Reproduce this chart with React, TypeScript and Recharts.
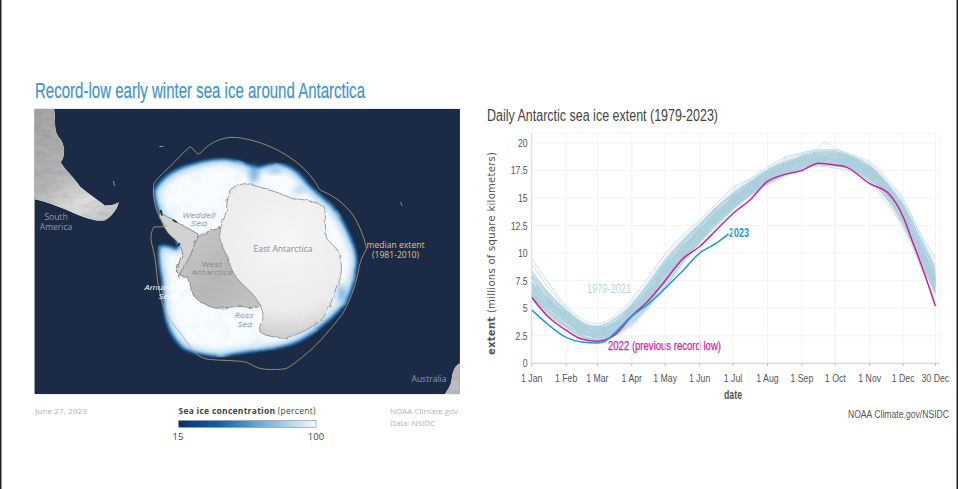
import { CartesianGrid, Line, LineChart, XAxis, YAxis } from "recharts";

// day of year for every value in the lists below
const knotDays = [0, 15, 31, 45, 59, 75, 90, 105, 120, 135, 151, 166, 181, 197, 212, 228, 243, 258, 273, 288, 304, 319, 334, 349, 363];

// 1979-2021
const paleYears = [
  [9.5, 7.3, 5.2, 4.0, 3.6, 4.3, 5.8, 7.8, 9.9, 11.5, 13.0, 14.5, 15.9, 16.8, 17.8, 18.7, 19.1, 19.4, 19.4, 18.9, 18.3, 16.8, 14.9, 11.9, 9.5],
  [9.0, 6.9, 5.0, 3.8, 3.4, 4.1, 5.5, 7.4, 9.5, 11.2, 12.8, 14.2, 15.6, 16.7, 17.6, 18.5, 19.0, 19.3, 19.3, 18.8, 18.1, 16.6, 14.7, 11.7, 8.9],
  [8.3, 6.4, 4.8, 3.7, 3.3, 4.0, 5.3, 7.2, 9.3, 11.0, 12.6, 14.1, 15.4, 16.5, 17.5, 18.3, 18.8, 19.2, 19.2, 18.7, 17.9, 16.4, 14.4, 11.4, 8.6],
  [8.0, 6.2, 4.7, 3.6, 3.2, 3.8, 5.2, 7.0, 9.1, 10.9, 12.5, 14.0, 15.3, 16.4, 17.4, 18.2, 18.7, 19.1, 19.1, 18.7, 17.8, 16.3, 14.3, 11.3, 8.3],
  [7.7, 6.0, 4.5, 3.5, 3.1, 3.7, 5.0, 6.8, 8.9, 10.7, 12.3, 13.8, 15.1, 16.3, 17.3, 18.1, 18.6, 19.0, 19.0, 18.6, 17.7, 16.2, 14.1, 11.0, 8.0],
  [7.4, 5.8, 4.4, 3.4, 3.0, 3.6, 4.9, 6.7, 8.7, 10.5, 12.1, 13.7, 15.0, 16.2, 17.2, 18.0, 18.5, 18.9, 18.9, 18.5, 17.6, 16.1, 14.0, 10.8, 7.8],
  [7.2, 5.7, 4.3, 3.3, 2.9, 3.5, 4.8, 6.5, 8.5, 10.4, 12.0, 13.5, 14.9, 16.1, 17.1, 17.9, 18.5, 18.8, 18.8, 18.4, 17.5, 16.0, 13.8, 10.7, 7.6],
  [7.0, 5.5, 4.2, 3.2, 2.8, 3.4, 4.7, 6.4, 8.4, 10.2, 11.9, 13.4, 14.8, 16.0, 17.0, 17.9, 18.4, 18.7, 18.7, 18.3, 17.4, 15.9, 13.7, 10.5, 7.5],
  [6.8, 5.4, 4.1, 3.1, 2.7, 3.3, 4.6, 6.2, 8.2, 10.1, 11.8, 13.3, 14.7, 15.9, 16.9, 17.8, 18.3, 18.6, 18.6, 18.2, 17.3, 15.8, 13.6, 10.4, 7.3],
  [6.7, 5.2, 4.0, 3.0, 2.6, 3.2, 4.5, 6.1, 8.0, 10.0, 11.6, 13.2, 14.6, 15.8, 16.8, 17.7, 18.2, 18.6, 18.5, 18.1, 17.2, 15.7, 13.5, 10.3, 7.1],
  [6.5, 5.1, 3.9, 2.9, 2.5, 3.1, 4.3, 6.0, 7.9, 9.8, 11.5, 13.1, 14.5, 15.7, 16.7, 17.6, 18.1, 18.5, 18.4, 18.0, 17.1, 15.6, 13.4, 10.1, 7.0],
  [6.4, 5.0, 3.8, 2.8, 2.5, 3.0, 4.2, 5.8, 7.7, 9.7, 11.4, 13.0, 14.4, 15.6, 16.6, 17.5, 18.0, 18.4, 18.3, 17.9, 17.0, 15.5, 13.3, 10.0, 6.9],
  [6.2, 4.8, 3.7, 2.8, 2.4, 2.9, 4.1, 5.7, 7.6, 9.5, 11.3, 12.9, 14.3, 15.5, 16.6, 17.4, 17.9, 18.3, 18.3, 17.8, 16.9, 15.4, 13.1, 9.9, 6.8],
  [6.1, 4.7, 3.5, 2.7, 2.3, 2.8, 4.0, 5.6, 7.5, 9.4, 11.2, 12.9, 14.2, 15.5, 16.5, 17.3, 17.9, 18.2, 18.2, 17.8, 16.8, 15.3, 13.0, 9.8, 6.6],
  [6.0, 4.6, 3.4, 2.5, 2.2, 2.7, 3.8, 5.4, 7.3, 9.3, 11.1, 12.7, 14.1, 15.4, 16.4, 17.2, 17.8, 18.1, 18.1, 17.7, 16.7, 15.2, 12.8, 9.6, 6.5],
  [5.9, 4.4, 3.3, 2.4, 2.1, 2.6, 3.6, 5.2, 7.0, 9.1, 11.0, 12.6, 14.0, 15.3, 16.3, 17.1, 17.7, 18.0, 17.9, 17.6, 16.5, 15.0, 12.6, 9.4, 6.3],
  [5.8, 4.3, 3.2, 2.3, 2.0, 2.5, 3.4, 5.0, 6.8, 8.9, 10.9, 12.4, 13.9, 15.2, 16.2, 17.0, 17.6, 17.9, 17.7, 17.4, 16.3, 14.6, 12.3, 9.0, 5.6],
  [7.9, 5.6, 4.6, 3.3, 3.2, 3.5, 5.1, 6.3, 8.8, 10.2, 12.2, 13.4, 15.2, 15.9, 17.3, 17.8, 18.7, 18.7, 19.0, 18.2, 17.8, 15.8, 14.2, 10.6, 8.2],
  [6.6, 5.9, 3.8, 3.4, 2.6, 3.6, 4.4, 6.6, 8.1, 10.6, 11.7, 13.6, 14.5, 16.2, 16.8, 18.0, 18.1, 18.9, 18.4, 18.5, 17.2, 16.2, 13.4, 11.0, 7.2],
  [7.1, 5.3, 4.4, 3.0, 3.0, 3.1, 4.9, 5.9, 8.6, 9.9, 12.1, 13.1, 14.9, 15.7, 17.1, 17.6, 18.5, 18.4, 18.9, 18.0, 17.6, 15.6, 13.9, 10.2, 7.7],
  [6.3, 5.0, 4.1, 2.6, 2.8, 2.9, 4.6, 5.5, 8.3, 9.6, 11.9, 12.8, 14.7, 15.6, 16.9, 17.5, 18.3, 18.3, 18.6, 17.9, 17.4, 15.5, 13.6, 9.9, 7.4],
];

// the one year that pokes above 20 in late September
const peakDays = [228, 243, 255, 264, 273, 288, 304];
const peakValues = [18.2, 18.9, 19.3, 20.05, 19.5, 18.9, 17.9];

const days2022 = [0, 15, 31, 45, 59, 75, 90, 105, 120, 135, 151, 166, 181, 196, 212, 226, 243, 258, 273, 283, 304, 321, 334, 343, 354, 363];
const values2022 = [6.0, 4.2, 3.0, 2.2, 2.0, 2.6, 4.3, 5.7, 7.5, 9.4, 10.6, 12.1, 13.6, 14.8, 16.5, 17.1, 17.5, 18.15, 18.0, 17.8, 16.3, 15.4, 13.3, 10.9, 7.9, 5.2];

const days2023 = [0, 15, 31, 45, 59, 65, 75, 90, 105, 120, 135, 151, 166, 177];
const values2023 = [4.85, 3.5, 2.35, 1.93, 1.85, 1.95, 2.8, 4.3, 5.4, 6.8, 8.3, 10.0, 10.9, 11.75];

const xTicks = [0, 31, 59, 90, 120, 151, 181, 212, 243, 273, 304, 334, 363];
const xTickLabels = ["1 Jan", "1 Feb", "1 Mar", "1 Apr", "1 May", "1 Jun", "1 Jul", "1 Aug", "1 Sep", "1 Oct", "1 Nov", "1 Dec", "30 Dec"];
const yTicks = [0, 2.5, 5, 7.5, 10, 12.5, 15, 17.5, 20];

const toRows = (days: number[], values: number[]) =>
  days.map((day, i) => ({ day, value: values[i] }));

const SANS = '"Liberation Sans", sans-serif';
const SOFT = '"Open Sans", sans-serif';

// the originals are set in a narrow face, so the tick text is squeezed horizontally
function XTick({ x, y, payload }: any) {
  const label = xTickLabels[xTicks.indexOf(payload.value)];
  return (
    <text transform={`translate(${x} ${y + 12}) scale(0.76 1)`} textAnchor="middle" fontFamily={SANS} fontSize={11.5} fill="#555">
      {label}
    </text>
  );
}

function YTick({ x, y, payload }: any) {
  return (
    <text transform={`translate(${x} ${y + 4}) scale(0.76 1)`} textAnchor="end" fontFamily={SANS} fontSize={11.5} fill="#555">
      {payload.value}
    </text>
  );
}

// outlines are in 3x units, the group below scales them down
const ICE =
  "M370 345 C385 310 420 285 460 272 C500 258 545 248 585 250 C620 252 650 262 680 276 C700 268 730 260 760 266 C795 272 815 295 835 322 C855 345 885 365 912 392 C940 425 960 470 975 510 C985 540 985 565 978 600 C972 640 962 672 935 705 C905 738 875 760 840 785 C800 812 760 820 715 826 C675 832 625 838 580 846 C540 848 490 838 458 824 C430 800 412 770 402 725 C396 690 398 650 392 610 C385 575 380 540 385 512 C400 505 425 508 440 520 C445 500 425 480 408 455 C390 430 372 395 370 345 Z";
const MEDIAN =
  "M600 187 C575 190 555 198 535 212 C520 224 512 236 503 237 C495 232 490 218 480 215 C460 232 440 255 415 280 C395 298 380 312 372 326 C368 350 372 380 380 405 C388 425 396 442 410 455 L372 456 C364 468 360 485 365 505 C372 530 378 560 380 595 C384 630 392 680 408 715 C425 745 450 770 470 800 C485 825 500 845 530 852 C570 858 620 855 650 862 C670 870 680 882 710 883 C730 884 750 884 768 881 C790 870 815 848 842 825 C870 800 900 765 935 720 C955 690 975 640 985 590 C988 570 995 545 1010 522 C1005 498 995 465 975 430 C960 405 935 380 905 362 C890 352 875 350 868 343 C855 315 830 285 795 258 C760 232 720 212 680 200 C650 192 625 186 600 187 Z";
const EAST =
  "M600 345 C615 332 640 322 660 328 C700 340 750 352 790 372 C815 372 855 378 882 395 C890 415 882 445 890 490 C905 510 925 520 930 545 C938 580 935 610 918 640 C905 680 895 715 870 738 C840 762 800 782 760 790 C735 788 705 782 690 770 C685 752 700 738 700 720 C695 695 680 665 650 640 C625 615 605 595 598 560 C590 530 565 510 570 470 C575 440 590 420 590 395 C592 375 596 358 600 345 Z";
const WEST =
  "M560 462 C575 455 590 458 600 470 L610 590 C640 620 670 650 692 680 C690 695 680 702 660 698 C625 690 590 700 560 700 C530 695 505 680 490 660 C482 640 480 620 470 605 C455 605 440 600 442 580 C450 555 460 530 470 512 C490 490 525 470 560 462 Z";
const PENINSULA =
  "M388 412 C410 425 450 445 505 478 L482 540 C470 565 455 585 445 605 C438 580 450 555 458 535 C455 515 440 495 425 485 C405 468 392 440 388 412 Z";
const SOUTH_AMERICA =
  "M13 101 L72 101 C78 130 70 165 85 185 C105 205 108 240 92 262 C105 285 130 305 150 335 C170 352 195 368 225 392 C245 392 258 388 266 382 C262 405 240 428 225 436 C200 440 170 430 145 420 C110 405 60 382 13 372 Z";
const AUSTRALIA = "M1290 865 C1278 870 1268 885 1265 915 C1262 935 1250 948 1245 958 L1290 958 Z";

function MapPanel() {
  return (
    <>
      <defs>
        <clipPath id="mapClip">
          <rect x={13} y={101} width={1277} height={857} />
        </clipPath>
        <filter id="fringe" x="-5%" y="-5%" width="110%" height="110%">
          <feGaussianBlur stdDeviation="2.5" />
        </filter>
        <filter id="iceMid" x="-5%" y="-5%" width="110%" height="110%">
          <feMorphology operator="erode" radius="6" />
          <feGaussianBlur stdDeviation="5" />
        </filter>
        <filter id="iceCore" x="-5%" y="-5%" width="110%" height="110%">
          <feMorphology operator="erode" radius="15" />
          <feGaussianBlur stdDeviation="9" />
        </filter>
        <filter id="patch" x="-60%" y="-60%" width="220%" height="220%">
          <feGaussianBlur stdDeviation="9" />
        </filter>
        <filter id="mottle" x="0" y="0" width="100%" height="100%">
          <feTurbulence type="fractalNoise" baseFrequency="0.018" numOctaves="3" seed="4" result="n" />
          <feColorMatrix in="n" type="matrix" values="0 0 0 0 0.72  0 0 0 0 0.85  0 0 0 0 0.95  0 0 0 3.2 -1.7" result="tint" />
          <feComposite in="tint" in2="SourceAlpha" operator="in" />
        </filter>
        <filter id="rough" x="-3%" y="-3%" width="106%" height="106%">
          <feTurbulence type="fractalNoise" baseFrequency="0.06" numOctaves="2" seed="7" result="n" />
          <feDisplacementMap in="SourceGraphic" in2="n" scale="9" />
        </filter>
        <filter id="rock" x="0" y="0" width="100%" height="100%">
          <feTurbulence type="fractalNoise" baseFrequency="0.03 0.07" numOctaves="4" seed="11" result="n" />
          <feColorMatrix in="n" type="matrix" values="0.3 0 0 0 0.8  0.3 0 0 0 0.8  0.3 0 0 0 0.8  0 0 0 0 1" result="g" />
          <feComposite in="g" in2="SourceAlpha" operator="in" result="cut" />
          <feBlend in="cut" in2="SourceGraphic" mode="multiply" />
        </filter>
        <radialGradient id="eastFill" gradientUnits="userSpaceOnUse" cx={770} cy={500} r={290}>
          <stop offset="0%" stopColor="#f6f6f6" />
          <stop offset="72%" stopColor="#ececec" />
          <stop offset="100%" stopColor="#cdcdcd" />
        </radialGradient>
        <linearGradient id="westFill" x1="0" y1="0" x2="1" y2="1">
          <stop offset="0%" stopColor="#cbcbcb" />
          <stop offset="55%" stopColor="#b6b6b6" />
          <stop offset="100%" stopColor="#c4c4c4" />
        </linearGradient>
        <linearGradient id="shore" gradientUnits="userSpaceOnUse" x1="20" y1="120" x2="230" y2="420">
          <stop offset="0%" stopColor="#a5a5a5" />
          <stop offset="50%" stopColor="#b4b4b4" />
          <stop offset="80%" stopColor="#dedede" />
          <stop offset="100%" stopColor="#c8c8c8" />
        </linearGradient>
        <linearGradient id="concentration" x1="0" y1="0" x2="1" y2="0">
          <stop offset="0%" stopColor="#08306b" />
          <stop offset="30%" stopColor="#0f62ab" />
          <stop offset="60%" stopColor="#6aaed8" />
          <stop offset="100%" stopColor="#f4f8fd" />
        </linearGradient>
      </defs>

      <text x={35} y={98} fontFamily={SANS} fontSize={22} fill="#4495c8" stroke="#4495c8" strokeWidth={0.25} textLength={330} lengthAdjust="spacingAndGlyphs">
        Record-low early winter sea ice around Antarctica
      </text>

      <g transform="translate(30 75) scale(0.3333)" clipPath="url(#mapClip)">
        <rect x={13} y={101} width={1277} height={857} fill="#1b2a45" />
        <path d={SOUTH_AMERICA} fill="url(#shore)" filter="url(#rock)" />
        <path d={AUSTRALIA} fill="#bdbdbd" filter="url(#rock)" />

        <path d={ICE} fill="#0f5ea6" filter="url(#fringe)" />
        <path d={ICE} fill="#a9d3f0" filter="url(#iceMid)" />
        <path d={ICE} fill="#f8fbff" filter="url(#iceCore)" />
        <path d={ICE} fill="#000" filter="url(#mottle)" opacity={0.5} />
        <ellipse cx={672} cy={298} rx={12} ry={26} fill="#5fa9de" filter="url(#patch)" />
        <ellipse cx={735} cy={285} rx={20} ry={8} fill="#7cbae6" filter="url(#patch)" />
        <ellipse cx={810} cy={345} rx={16} ry={8} fill="#8ec4ea" filter="url(#patch)" />
        <ellipse cx={935} cy={655} rx={10} ry={26} fill="#5fa9de" filter="url(#patch)" />

        <g filter="url(#rough)">
          <path d={WEST} fill="url(#westFill)" stroke="#808080" strokeWidth={2.5} />
          <path d={PENINSULA} fill="#d2d2d2" stroke="#777" strokeWidth={2.5} />
          <path d={EAST} fill="url(#eastFill)" stroke="#888" strokeWidth={2.5} />
        </g>
        <path d="M392 405 L396 422 M428 434 L440 442 M450 505 L442 514" stroke="#222" strokeWidth={5} fill="none" />

        <path d={MEDIAN} fill="none" stroke="#b5a572" strokeWidth={2.4} />
        <path d="M388 215 L400 214 M250 318 L254 332 M1112 382 L1116 392" stroke="#9a9a9a" strokeWidth={3} />
      </g>

      <g fontFamily={SOFT} textAnchor="middle">
        <g fontSize={8.5} fill="#8f98a6">
          <text x={56} y={220}>South</text>
          <text x={56} y={229.5}>America</text>
          <text x={429} y={381.5} textLength={35}>Australia</text>
        </g>
        <text x={283} y={252} fontSize={8.5} fill="#8c8c8c" textLength={59}>East Antarctica</text>
        <text x={212} y={266.5} fontSize={8} fill="#858585" textLength={20}>West</text>
        <text x={212} y={275} fontSize={8} fill="#858585" textLength={40}>Antarctica</text>
        <g fontSize={8} fontStyle="italic" fill="#f7f9fc" stroke="#8fa6c4" strokeWidth={0.35}>
          <text x={199} y={217.5} textLength={33} lengthAdjust="spacingAndGlyphs">Weddell</text>
          <text x={199} y={226} textLength={17} lengthAdjust="spacingAndGlyphs">Sea</text>
          <text x={244} y={318} textLength={19} lengthAdjust="spacingAndGlyphs">Ross</text>
          <text x={245} y={326.5} textLength={15} lengthAdjust="spacingAndGlyphs">Sea</text>
        </g>
        <g fontSize={8} fontStyle="italic" fill="#fff">
          <text x={166} y={290} textLength={43} lengthAdjust="spacingAndGlyphs">Amundsen</text>
          <text x={166} y={299} textLength={15} lengthAdjust="spacingAndGlyphs">Sea</text>
        </g>
        <g fontSize={8.5} fill="#e3c680">
          <text x={395.5} y={248} textLength={58}>median extent</text>
          <text x={395.5} y={257.5} textLength={47}>(1981-2010)</text>
        </g>
      </g>

      <g fontFamily={SOFT}>
        <text x={35} y={414} fontSize={8} fill="#aeaeae" textLength={52}>June 27, 2023</text>
        <text x={390} y={414} fontSize={8} fill="#b4b4b4" textLength={68}>NOAA Climate.gov</text>
        <text x={390} y={426} fontSize={8} fill="#b4b4b4" textLength={45}>Data: NSIDC</text>
        <text x={178.5} y={414} fontSize={8.5} fill="#444" textLength={137}>
          <tspan fontWeight={700}>Sea ice concentration</tspan> (percent)
        </text>
        <rect x={178.5} y={420.5} width={137.5} height={7} fill="url(#concentration)" stroke="#9a9a9a" strokeWidth={0.7} />
        <text x={178} y={439.5} fontSize={9.5} fill="#444" textAnchor="middle">15</text>
        <text x={316} y={439.5} fontSize={9.5} fill="#444" textAnchor="middle">100</text>
      </g>
    </>
  );
}

export default function App() {
  return (
    <div style={{ position: "absolute", left: 0, top: 0, width: 958, height: 489, background: "#fff", overflow: "hidden" }}>
      <svg width={958} height={489} style={{ position: "absolute", left: 0, top: 0 }}>
        <MapPanel />
        <rect x={0} y={0} width={1.5} height={489} fill="#222" />
        <rect x={956.5} y={0} width={1.5} height={489} fill="#222" />

        <text x={487} y={121} fontFamily={SANS} fontSize={16} fill="#444" textLength={231} lengthAdjust="spacingAndGlyphs">
          Daily Antarctic sea ice extent (1979-2023)
        </text>
        <text
          transform="translate(495 355) rotate(-90)"
          fontFamily='"DejaVu Sans", sans-serif'
          fontSize={10}
          fill="#555"
          textLength={203}
        >
          <tspan fontWeight={700}>extent</tspan> (millions of square kilometers)
        </text>
        <text x={733} y={399} fontFamily={SANS} fontSize={12.5} fontWeight={700} fill="#555" textAnchor="middle" textLength={18} lengthAdjust="spacingAndGlyphs">date</text>
        <text transform="translate(949 418) scale(0.75 1)" textAnchor="end" fontFamily={SANS} fontSize={11.5} fill="#555">
          NOAA Climate.gov/NSIDC
        </text>
        <text x={729} y={237} fontFamily={SANS} fontSize={12} fontWeight={700} fill="#1b9ad6" textLength={20} lengthAdjust="spacingAndGlyphs">2023</text>
        <text x={608} y={350} fontFamily={SANS} fontSize={12} fill="#cf259f" stroke="#cf259f" strokeWidth={0.25} textLength={113} lengthAdjust="spacingAndGlyphs">
          2022 (previous record low)
        </text>
        <text x={587} y={293} fontFamily={SANS} fontSize={12.5} fill="#b7d3de" textLength={44} lengthAdjust="spacingAndGlyphs">
          1979-2021
        </text>
      </svg>

      <div style={{ position: "absolute", left: 480, top: 120 }}>
        <LineChart width={476} height={300} margin={{ top: 13, right: 16.2, bottom: 26.7, left: 0 }}>
          <CartesianGrid stroke="#f3f3f3" strokeWidth={1} />
          <XAxis
            dataKey="day"
            type="number"
            domain={[0, 367]}
            ticks={xTicks}
            interval={0}
            height={30}
            tickSize={3}
            tickMargin={4}
            axisLine={{ stroke: "#cfcfcf" }}
            tickLine={{ stroke: "#bdbdbd" }}
            tick={<XTick />}
            allowDuplicatedCategory={false}
          />
          <YAxis
            type="number"
            domain={[0, 20.9]}
            ticks={yTicks}
            interval={0}
            width={51.7}
            tickSize={0}
            tickMargin={4}
            axisLine={{ stroke: "#d8d8d8" }}
            tick={<YTick />}
          />
          {paleYears.map((values, i) => (
            <Line
              key={i}
              data={toRows(knotDays, values)}
              dataKey="value"
              type="monotone"
              stroke={i < 2 || i === 16 ? "#c8dfe8" : "#abcfdd"}
              strokeWidth={i < 2 || i === 16 ? 1 : 1.2}
              dot={false}
              isAnimationActive={false}
            />
          ))}
          <Line data={toRows(peakDays, peakValues)} dataKey="value" type="monotone" stroke="#cfe3ea" strokeWidth={1} dot={false} isAnimationActive={false} />
          <Line data={toRows(days2022, values2022)} dataKey="value" type="monotone" stroke="#c9249b" strokeWidth={1.5} dot={false} isAnimationActive={false} />
          <Line data={toRows(days2023, values2023)} dataKey="value" type="monotone" stroke="#1b9ad6" strokeWidth={1.5} dot={false} isAnimationActive={false} />
        </LineChart>
      </div>
    </div>
  );
}
